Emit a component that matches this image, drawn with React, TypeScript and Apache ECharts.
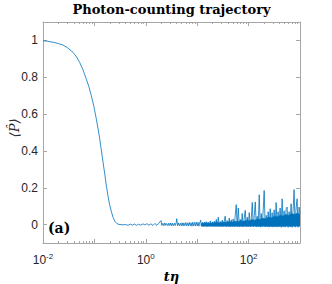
import React, { useEffect, useRef } from "react";
import * as echarts from "echarts";

// Smooth decay part (t, <P>)
const smoothT = [0.01, 0.012, 0.0157, 0.02, 0.0245, 0.03, 0.0384, 0.045, 0.0518, 0.06, 0.0695, 0.078, 0.0871, 0.098, 0.109, 0.118, 0.127, 0.137, 0.147, 0.159, 0.171, 0.185, 0.199, 0.215, 0.23, 0.25, 0.275, 0.3, 0.33];
const smoothP = [0.998, 0.996, 0.99, 0.983, 0.975, 0.96, 0.935, 0.91, 0.88, 0.84, 0.79, 0.75, 0.7, 0.64, 0.573, 0.52, 0.465, 0.4, 0.34, 0.275, 0.21, 0.15, 0.105, 0.068, 0.04, 0.018, 0.005, 0.001, 0.0];

// Noisy long-time part (t, <P>)
const noiseT = [
  0.36, 0.4, 0.45, 0.5, 0.55, 0.6, 0.66, 0.72, 0.8, 0.88, 0.96, 1.05, 1.15, 1.26, 1.38, 1.5, 1.65, 1.8, 1.98,
  2.05, 2.15, 2.25, 2.35, 2.45, 2.55, 2.7, 2.8, 2.95, 3.05, 3.2, 3.3, 3.45, 3.6, 3.75, 3.9, 4.0, 4.15, 4.3, 4.5,
  4.7, 4.9, 5.1, 5.3, 5.5, 5.75, 6.0, 6.25, 6.5, 6.75, 7.0, 7.3, 7.6, 7.9, 8.2, 8.55, 8.9, 9.25, 9.6, 10.0, 10.4,
  10.8, 11.2, 11.7, 12, 12.6, 13.2, 13.8, 14.4, 15, 15.7, 16.4, 17.2, 18, 18.8, 19.7, 20.6, 21.5, 22.5, 23.5,
  24.6, 25.7, 26.9, 28.1, 29.4, 30.7, 32.1, 33.6, 35.1, 36.7, 38.4, 40.2, 42, 44, 46, 48, 50, 52.5, 55, 57.5,
  60, 63, 66, 69, 72, 75, 78.5, 82, 86, 90, 94, 98, 103, 108, 113, 118, 123, 129, 135, 141, 147, 154, 161, 168,
  176, 184, 192, 201, 210, 220, 230, 240, 251, 263, 275, 287, 300, 314, 328, 343, 359, 375, 392, 410, 429, 449,
  469, 491, 513, 537, 561, 587, 614, 642, 671, 702, 734, 768, 803, 840, 878, 918, 960, 1000,
];
const noiseP = [
  -0.002, 0.001, -0.004, 0.002, -0.003, 0.003, -0.004, 0.002, -0.003, 0.004, -0.002, 0.005, -0.003, 0.004, -0.005, 0.006, -0.004, 0.008, 0.022,
  -0.005, 0.007, -0.006, 0.009, -0.004, 0.006, -0.006, 0.008, -0.005, 0.009, -0.006, 0.007, -0.007, 0.008, -0.005, 0.01, 0.032, -0.006, 0.009, -0.007,
  0.008, -0.006, 0.01, -0.008, 0.009, -0.006, 0.011, -0.007, 0.009, -0.008, 0.012, -0.006, 0.01, -0.009, 0.013, -0.007, 0.011, -0.008, 0.014, -0.007, 0.012,
  -0.009, 0.01, 0.024, -0.008, 0.012, -0.009, 0.014, -0.008, 0.016, -0.01, 0.013, -0.009, 0.02, -0.008, 0.015, -0.01, 0.018, -0.009, 0.028,
  -0.01, 0.04, -0.009, 0.017, -0.011, 0.024, -0.01, 0.019, 0.046, -0.011, 0.022, -0.01, 0.035, -0.012, 0.026, -0.01, 0.03, -0.012, 0.05, 0.108,
  -0.011, 0.09, -0.012, 0.028, -0.01, 0.06, -0.013, 0.032, 0.077, -0.012, 0.04, -0.011, 0.065, -0.013, 0.036, 0.12, -0.012, 0.05, 0.123, -0.013, 0.045, -0.011, 0.162, -0.014,
  0.06, -0.012, 0.075, 0.185, -0.013, 0.05, -0.012, 0.07, -0.014, 0.086, -0.012, 0.065, -0.014, 0.08, -0.013, 0.12, -0.014, 0.07, -0.012, 0.09, -0.015, 0.14,
  -0.013, 0.075, -0.014, 0.085, 0.095, -0.015, 0.07, -0.013, 0.113, -0.015, 0.08, 0.19, -0.014, 0.09, 0.14, -0.015, 0.095, 0.06,
];

// Upper edge of the dense, unresolved fluctuation band (lower edge ~ -0.01)
const bandT = [12, 15, 18, 21, 24, 28, 32, 37, 42, 48, 55, 62, 70, 80, 90, 102, 115, 130, 148, 168, 190, 215, 245, 280, 320, 365, 415, 470, 535, 610, 690, 780, 880, 1000];
const bandHigh = [0.006, 0.009, 0.007, 0.01, 0.012, 0.009, 0.014, 0.012, 0.016, 0.013, 0.018, 0.016, 0.021, 0.018, 0.024, 0.02, 0.027, 0.024, 0.03, 0.028, 0.034, 0.031, 0.04, 0.036, 0.045, 0.042, 0.05, 0.046, 0.055, 0.05, 0.06, 0.055, 0.062, 0.058];
const bandLow = -0.01;

const yTicks = [0, 0.2, 0.4, 0.6, 0.8, 1];
const xLabelTicks = [0.01, 1, 100];
const xDecades = [0.01, 0.1, 1, 10, 100, 1000];

export default function App() {
  const ref = useRef<HTMLDivElement>(null);
  useEffect(() => {
    document.body.style.margin = "0";
    const chart = echarts.init(ref.current!, null, { renderer: "svg" });
    const minor: number[] = [];
    for (let i = 0; i < xDecades.length - 1; i++) {
      for (let k = 2; k <= 9; k++) minor.push(xDecades[i] * k);
    }
    const data: [number, number][] = [];
    smoothT.forEach((t, i) => data.push([t, smoothP[i]]));
    noiseT.forEach((t, i) => data.push([t, noiseP[i]]));
    const band: [number, number][] = bandT.map((t, i) => [t, bandHigh[i]]);
    const axisColor = "#a6a6a6";
    const labelColor = "#262626";
    const baseX = {
      type: "log" as const,
      logBase: 10,
      min: 0.01,
      max: 1000,
      gridIndex: 0,
      splitLine: { show: false },
      minorSplitLine: { show: false },
    };
    const option: any = {
      animation: false,
      backgroundColor: "#ffffff",
      grid: { left: 43, right: 32, top: 22, bottom: 41, containLabel: false, outerBoundsMode: "none" },
      xAxis: [
        {
          ...baseX,
          position: "bottom",
          axisLine: { show: true, onZero: false, lineStyle: { color: axisColor, width: 1 } },
          axisTick: { show: true, inside: true, length: 4, customValues: xDecades, lineStyle: { color: axisColor } },
          axisLabel: {
            show: true,
            customValues: xLabelTicks,
            margin: 9,
            align: "center",
            color: labelColor,
            formatter: (v: number) => "{b|10}{s|" + Math.round(Math.log10(v)) + "}",
            rich: {
              b: { fontSize: 12, fontFamily: "Liberation Sans", color: labelColor },
              s: { fontSize: 8, fontFamily: "Liberation Sans", color: labelColor, verticalAlign: "top", padding: [0, 0, 7, 0] },
            },
          },
          name: "tη",
          nameLocation: "middle",
          nameGap: 24,
          nameTextStyle: { fontFamily: "DejaVu Serif", fontStyle: "italic", fontWeight: "bold", fontSize: 13, color: "#000" },
        },
        {
          ...baseX,
          position: "bottom",
          axisLine: { show: false, onZero: false },
          axisTick: { show: true, inside: true, length: 2, customValues: minor, lineStyle: { color: axisColor } },
          axisLabel: { show: false },
        },
        {
          ...baseX,
          position: "top",
          axisLine: { show: true, onZero: false, lineStyle: { color: axisColor, width: 1 } },
          axisTick: { show: true, inside: true, length: 4, customValues: xDecades, lineStyle: { color: axisColor } },
          axisLabel: { show: false },
        },
        {
          ...baseX,
          position: "top",
          axisLine: { show: false, onZero: false },
          axisTick: { show: true, inside: true, length: 2, customValues: minor, lineStyle: { color: axisColor } },
          axisLabel: { show: false },
        },
      ],
      yAxis: [
        {
          type: "value",
          min: -0.1,
          max: 1.1,
          position: "left",
          splitLine: { show: false },
          axisLine: { show: true, onZero: false, lineStyle: { color: axisColor, width: 1 } },
          axisTick: { show: true, inside: true, length: 4, customValues: yTicks, lineStyle: { color: axisColor } },
          axisLabel: {
            show: true,
            customValues: yTicks,
            margin: 5,
            fontSize: 12,
            fontFamily: "Liberation Sans",
            color: labelColor,
            formatter: (v: number) => String(Math.round(v * 10) / 10),
          },
        },
        {
          type: "value",
          min: -0.1,
          max: 1.1,
          position: "right",
          splitLine: { show: false },
          axisLine: { show: true, onZero: false, lineStyle: { color: axisColor, width: 1 } },
          axisTick: { show: true, inside: true, length: 4, customValues: yTicks, lineStyle: { color: axisColor } },
          axisLabel: { show: false },
        },
      ],
      graphic: [
        {
          type: "text",
          x: 171.5,
          y: 3,
          style: {
            text: "Photon-counting trajectory",
            fontFamily: "DejaVu Serif",
            fontWeight: "bold",
            fontSize: 13,
            fill: "#000",
            textAlign: "center",
            textVerticalAlign: "top",
          },
        },
        {
          type: "text",
          x: 14,
          y: 128,
          rotation: Math.PI / 2,
          style: {
            text: "⟨P̂⟩",
            fontFamily: "DejaVu Serif",
            fontStyle: "italic",
            fontSize: 13,
            fill: labelColor,
            textAlign: "center",
            textVerticalAlign: "middle",
          },
        },
        {
          type: "text",
          x: 48,
          y: 228,
          z: 10,
          style: {
            text: "(a)",
            fontFamily: "DejaVu Serif",
            fontWeight: "bold",
            fontSize: 14,
            fill: "#000",
            textAlign: "left",
            textVerticalAlign: "middle",
          },
        },
      ],
      series: [
        {
          type: "line",
          xAxisIndex: 0,
          yAxisIndex: 0,
          data: band,
          showSymbol: false,
          symbol: "none",
          lineStyle: { color: "#0072BD", width: 0.6 },
          areaStyle: { color: "#0072BD", opacity: 1, origin: bandLow },
          clip: true,
        },
        {
          type: "line",
          xAxisIndex: 0,
          yAxisIndex: 0,
          data,
          showSymbol: false,
          symbol: "none",
          lineStyle: { color: "#0072BD", width: 0.8 },
          clip: true,
        },
      ],
    };
    chart.setOption(option);
    return () => chart.dispose();
  }, []);
  return <div ref={ref} style={{ position: "absolute", left: 0, top: 0, width: 332, height: 284 }} />;
}
